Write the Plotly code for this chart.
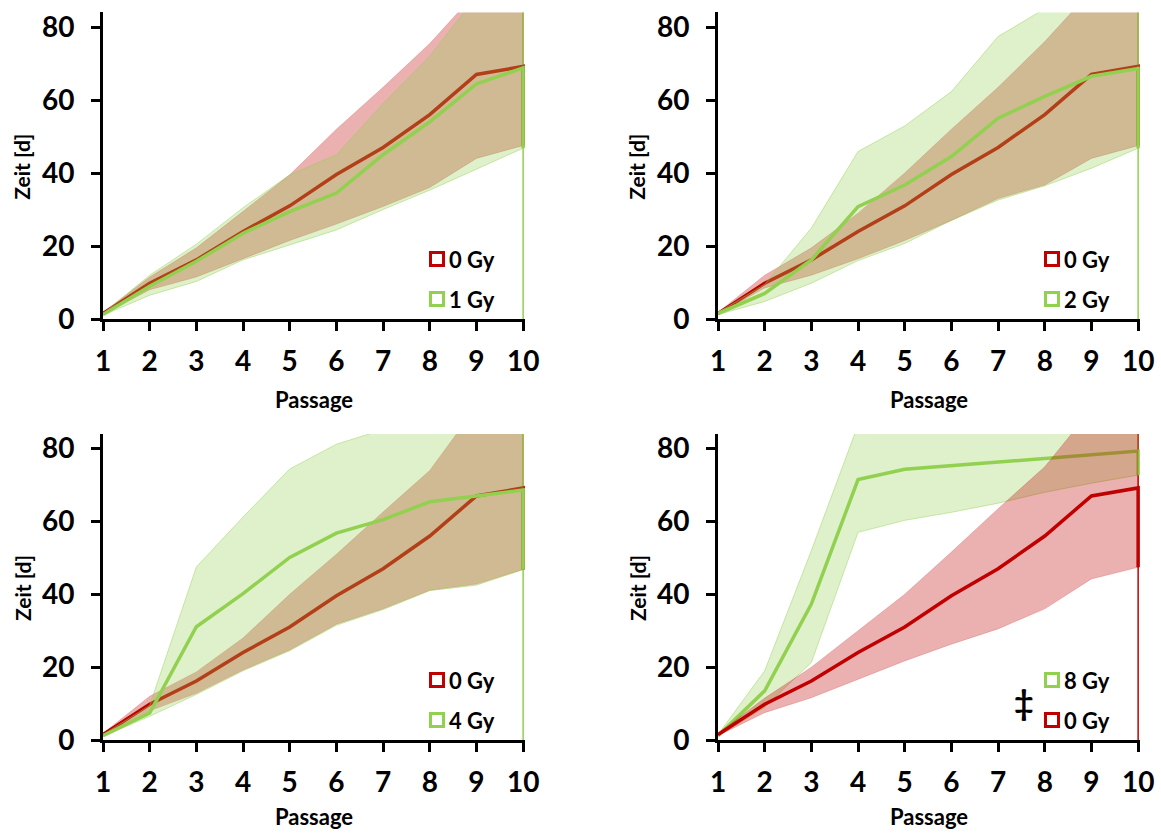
import plotly.graph_objects as go

W, H = 1161, 834

passage = [1, 2, 3, 4, 5, 6, 7, 8, 9, 10]
y_ticks = [0, 20, 40, 60, 80]

# 0 Gy control (mean shared, bands per panel)
ctrl_mean = [1.5, 9.8, 16.2, 24.0, 31.0, 39.6, 47.0, 56.0, 67.0, 69.2]
ctrl_hi_1 = [1.8, 11.5, 19.5, 29.5, 39.5, 52.0, 63.5, 75.5, 89.5, 94.0]
ctrl_lo_1 = [1.2, 8.0, 11.5, 16.5, 21.5, 26.0, 30.8, 36.0, 44.0, 47.5]
ctrl_hi_2 = [1.8, 12.0, 19.5, 29.0, 40.0, 52.0, 63.5, 76.0, 90.0, 94.0]
ctrl_lo_2 = [1.2, 8.5, 12.0, 16.5, 21.5, 27.0, 33.0, 36.7, 44.0, 47.5]
ctrl_hi_3 = [1.8, 12.0, 18.7, 28.0, 40.0, 51.0, 62.6, 74.0, 91.5, 95.0]
ctrl_lo_3 = [1.2, 8.0, 12.8, 19.2, 24.7, 31.8, 36.0, 41.1, 42.8, 46.8]
ctrl_hi_4 = [1.8, 11.5, 20.0, 30.0, 40.0, 51.6, 63.5, 75.0, 90.8, 95.0]
ctrl_lo_4 = [1.2, 7.5, 11.6, 16.7, 21.7, 26.3, 30.5, 36.0, 44.2, 47.4]

# 1 Gy
g1_mean = [1.2, 9.0, 15.8, 23.5, 29.4, 34.5, 45.0, 54.0, 64.4, 68.8]
g1_hi = [1.5, 12.0, 20.5, 30.5, 39.5, 45.0, 59.0, 72.0, 88.4, 96.0]
g1_lo = [1.0, 6.5, 10.3, 16.2, 20.3, 24.4, 30.0, 35.3, 41.0, 46.8]
# 2 Gy
g2_mean = [1.5, 7.0, 16.2, 30.8, 36.7, 44.5, 55.0, 61.0, 66.5, 68.6]
g2_hi = [1.8, 9.5, 24.9, 45.9, 52.9, 62.3, 77.4, 85.0, 95.0, 100.0]
g2_lo = [1.2, 4.8, 9.8, 16.0, 20.7, 27.0, 32.6, 36.5, 41.3, 46.8]
# 4 Gy
g4_mean = [1.2, 7.4, 31.1, 40.2, 50.1, 56.8, 60.5, 65.4, 67.0, 68.6]
g4_hi = [1.5, 9.5, 47.5, 61.2, 74.4, 81.2, 85.2, 92.0, 96.0, 100.0]
g4_lo = [1.0, 6.5, 12.5, 19.0, 24.5, 31.5, 35.8, 41.0, 42.5, 46.8]
# 8 Gy
g8_mean = [1.2, 13.5, 37.3, 71.5, 74.3, 75.3, 76.1, 77.2, 78.3, 79.3]
g8_hi = [1.5, 19.0, 52.0, 86.5, 92.0, 95.0, 97.0, 99.0, 100.0, 101.0]
g8_lo = [1.0, 9.0, 21.3, 57.0, 60.3, 62.5, 65.0, 68.0, 70.5, 72.7]

RED = "#C00000"
GREEN = "#92D050"
RED_FILL = "rgba(192,0,0,0.31)"
GREEN_FILL = "rgba(146,208,80,0.30)"
RED_EDGE = "rgba(192,0,0,0.18)"
GREEN_EDGE = "rgba(146,208,80,0.45)"

FONT = "Lato"

# pixel layout
x_px = [(103, 525), (718, 1140)]          # x=1 .. x=10.04
y_px = [(12.4, 319), (434, 740)]          # top .. bottom (y=84 .. y=0)

panels = [
    dict(col=0, row=0, series=[("c", ctrl_mean, ctrl_hi_1, ctrl_lo_1), ("g", g1_mean, g1_hi, g1_lo)],
         legend=[("0 Gy", RED), ("1 Gy", GREEN)], vline=GREEN, dagger=False),
    dict(col=1, row=0, series=[("c", ctrl_mean, ctrl_hi_2, ctrl_lo_2), ("g", g2_mean, g2_hi, g2_lo)],
         legend=[("0 Gy", RED), ("2 Gy", GREEN)], vline=GREEN, dagger=False),
    dict(col=0, row=1, series=[("c", ctrl_mean, ctrl_hi_3, ctrl_lo_3), ("g", g4_mean, g4_hi, g4_lo)],
         legend=[("0 Gy", RED), ("4 Gy", GREEN)], vline=GREEN, dagger=False),
    dict(col=1, row=1, series=[("g", g8_mean, g8_hi, g8_lo), ("c", ctrl_mean, ctrl_hi_4, ctrl_lo_4)],
         legend=[("8 Gy", GREEN), ("0 Gy", RED)], vline=RED, dagger=True),
]

fig = go.Figure()
layout = dict(
    width=W, height=H, margin=dict(l=0, r=0, t=0, b=0),
    paper_bgcolor="white", plot_bgcolor="white", showlegend=False,
    font=dict(family=FONT, color="black"),
)
annotations = []
shapes = []

def px2x(p):
    return p / W

def py2y(p):
    return 1 - p / H

for i, p in enumerate(panels):
    n = "" if i == 0 else str(i + 1)
    xa, ya = "x" + n, "y" + n
    x0p, x1p = x_px[p["col"]]
    y0p, y1p = y_px[p["row"]]
    layout["xaxis" + n] = dict(
        domain=[px2x(x0p), px2x(x1p)], range=[1, 10.04], anchor=ya,
        tickvals=passage, ticktext=[str(v) for v in passage],
        showline=True, linewidth=3, linecolor="black",
        ticks="outside", ticklen=9, tickwidth=3, tickcolor="black",
        tickfont=dict(family=FONT, size=28, weight="bold", color="black"),
        ticklabelstandoff=6, automargin=False,
        showgrid=False, zeroline=False,
    )
    layout["yaxis" + n] = dict(
        domain=[py2y(y1p), py2y(y0p)], range=[0, 84], anchor=xa,
        tickvals=y_ticks,
        showline=True, linewidth=3, linecolor="black",
        ticks="outside", ticklen=9, tickwidth=3, tickcolor="black",
        tickfont=dict(family=FONT, size=28, weight="bold", color="black"),
        ticklabelstandoff=11, automargin=False,
        showgrid=False, zeroline=False,
    )
    for kind, mean, hi, lo in p["series"]:
        fill = RED_FILL if kind == "c" else GREEN_FILL
        edge = RED_EDGE if kind == "c" else GREEN_EDGE
        col = RED if kind == "c" else GREEN
        fig.add_trace(go.Scatter(
            x=passage + passage[::-1], y=hi + lo[::-1], xaxis=xa, yaxis=ya,
            fill="toself", fillcolor=fill, mode="lines",
            line=dict(color=edge, width=1), hoverinfo="skip",
        ))
        fig.add_trace(go.Scatter(
            x=passage + [passage[-1]], y=mean + [lo[-1]], xaxis=xa, yaxis=ya,
            mode="lines", line=dict(color=col, width=3.5),
        ))
    shapes.append(dict(type="line", xref=xa, yref=ya + " domain",
                       x0=passage[-1], x1=passage[-1], y0=0, y1=1,
                       line=dict(color=p["vline"], width=1.5), layer="below"))
    cx = (x0p + (x0p + 420)) / 2
    title_y = min(y1p + 80, 816)
    annotations.append(dict(text="<b>Passage</b>", xref="paper", yref="paper",
                            x=px2x(cx + 1), y=py2y(title_y), xanchor="center", yanchor="middle",
                            showarrow=False, font=dict(family=FONT, size=22, color="black")))
    annotations.append(dict(text="<b>Zeit [d]</b>", xref="paper", yref="paper",
                            x=px2x(x0p - 81), y=py2y((y0p + y1p) / 2 + 1), xanchor="center", yanchor="middle",
                            textangle=-90, showarrow=False,
                            font=dict(family=FONT, size=21, color="black")))
    bx = x0p + 334
    for k, (lab, c) in enumerate(p["legend"]):
        cy = y1p - 60 + 40 * k
        shapes.append(dict(type="rect", xref="paper", yref="paper",
                           x0=px2x(bx - 6.5), x1=px2x(bx + 6.5),
                           y0=py2y(cy + 6.5), y1=py2y(cy - 6.5),
                           line=dict(color=c, width=3), fillcolor="rgba(0,0,0,0)"))
        annotations.append(dict(text="<b>" + lab + "</b>", xref="paper", yref="paper",
                                x=px2x(bx + 10), y=py2y(cy), xanchor="left", yanchor="middle",
                                showarrow=False, font=dict(family=FONT, size=22, color="black")))
    if p["dagger"]:
        annotations.append(dict(text="<b>‡</b>", xref="paper", yref="paper",
                                x=px2x(bx - 28), y=py2y(y1p - 39), xanchor="center", yanchor="middle",
                                showarrow=False, font=dict(family=FONT, size=34, color="black")))

layout["annotations"] = annotations
layout["shapes"] = shapes
fig.update_layout(**layout)

fix_page = (
    "var d=document.getElementById('{plot_id}');"
    "var css='margin:0;padding:0;overflow:hidden;width:1161px;height:834px;';"
    "document.documentElement.style.cssText=css;"
    "document.body.style.cssText=css;"
    "if(d&&d.parentElement){d.parentElement.style.cssText=css+'line-height:0;font-size:0;';}"
    "if(d){d.style.display='block';}"
)
fig.write_html("out.html", config={"displayModeBar": False}, post_script=fix_page)
